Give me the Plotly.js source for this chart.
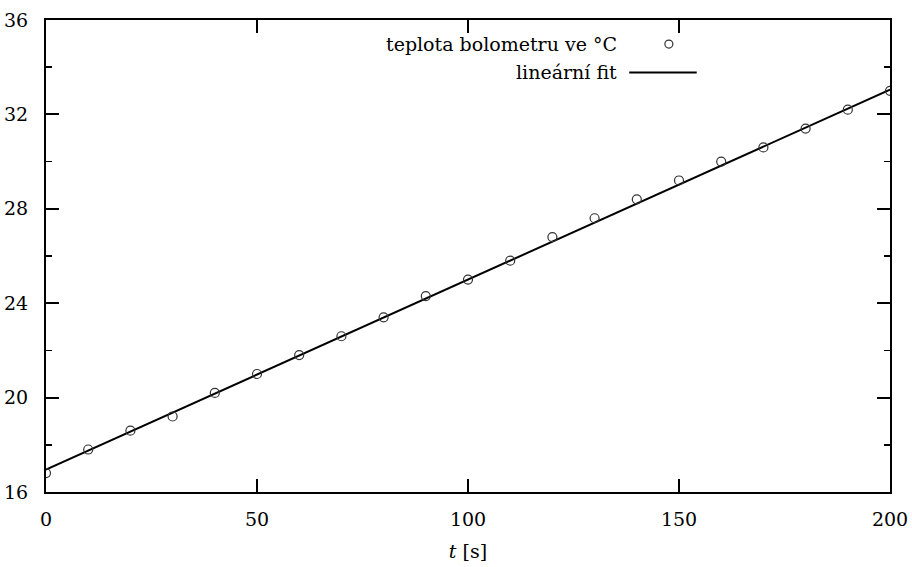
<!DOCTYPE html>
<html>
<head>
<meta charset="utf-8">
<script src="https://cdn.plot.ly/plotly-3.0.1.min.js"></script>
<style>html,body{margin:0;padding:0;background:#fff;}#chart{width:912px;height:567px;}</style>
</head>
<body>
<div id="chart"></div>
<script>
// Measured data (time in s, bolometer temperature in °C)
const times = [0, 10, 20, 30, 40, 50, 60, 70, 80, 90, 100, 110, 120, 130, 140, 150, 160, 170, 180, 190, 200];
const temps = [16.8, 17.8, 18.6, 19.2, 20.2, 21.0, 21.8, 22.6, 23.4, 24.3, 25.0, 25.8, 26.8, 27.6, 28.4, 29.2, 30.0, 30.6, 31.4, 32.2, 33.0];
// Linear fit line end points
const fitTimes = [0, 200];
const fitTemps = [16.95, 33.05];
// Tick labels
const xTicks = [0, 50, 100, 150, 200];
const yTicks = [16, 20, 24, 28, 32, 36];
const seriesNames = ['teplota bolometru ve °C', 'lineární fit'];

const FONT = 'DejaVu Serif';
const FS = 19;

const traces = [
  {
    x: fitTimes, y: fitTemps, mode: 'lines', name: seriesNames[1],
    line: {color: '#000', width: 2}, showlegend: false, hoverinfo: 'skip'
  },
  {
    x: times, y: temps, mode: 'markers', name: seriesNames[0],
    marker: {symbol: 'circle-open', size: 9, color: '#333', line: {width: 1.2, color: '#333'}},
    showlegend: false
  }
];

const axisCommon = {
  showgrid: false, zeroline: false, showline: true, linecolor: '#000', linewidth: 2,
  mirror: 'ticks', ticks: 'inside', ticklen: 13, tickwidth: 2, tickcolor: '#000',
  tickfont: {family: FONT, size: FS, color: '#000'}
};

const layout = {
  width: 912, height: 567,
  margin: {l: 46, r: 22, t: 20, b: 75},
  paper_bgcolor: '#fff', plot_bgcolor: '#fff',
  font: {family: FONT, size: FS, color: '#000'},
  showlegend: false,
  xaxis: Object.assign({}, axisCommon, {
    range: [0, 200], tickmode: 'array', tickvals: xTicks, ticklabelstandoff: 9,
    title: {text: '<i>t</i> [s]', font: {family: FONT, size: FS, color: '#000'}, standoff: 16}
  }),
  yaxis: Object.assign({}, axisCommon, {
    range: [16, 36], tickmode: 'array', tickvals: yTicks, ticklabelstandoff: 12,
    minor: {dtick: 2, ticklen: 6, tickwidth: 1.5, tickcolor: '#000', ticks: 'inside'}
  }),
  annotations: [
    {xref: 'paper', yref: 'paper', x: 0.679, y: 0.949, xanchor: 'right', yanchor: 'middle',
     text: seriesNames[0], showarrow: false, font: {family: FONT, size: FS, color: '#000'}},
    {xref: 'paper', yref: 'paper', x: 0.679, y: 0.889, xanchor: 'right', yanchor: 'middle',
     text: seriesNames[1], showarrow: false, font: {family: FONT, size: FS, color: '#000'}}
  ],
  shapes: [
    {type: 'circle', xref: 'paper', yref: 'paper', xsizemode: 'pixel', ysizemode: 'pixel',
     xanchor: 0.738, yanchor: 0.949, x0: -4, x1: 4, y0: -4, y1: 4,
     line: {color: '#333', width: 1.2}},
    {type: 'line', xref: 'paper', yref: 'paper', x0: 0.691, x1: 0.771, y0: 0.889, y1: 0.889,
     line: {color: '#000', width: 2}}
  ]
};

Plotly.newPlot('chart', traces, layout, {displayModeBar: false, staticPlot: true});
</script>
</body>
</html>
